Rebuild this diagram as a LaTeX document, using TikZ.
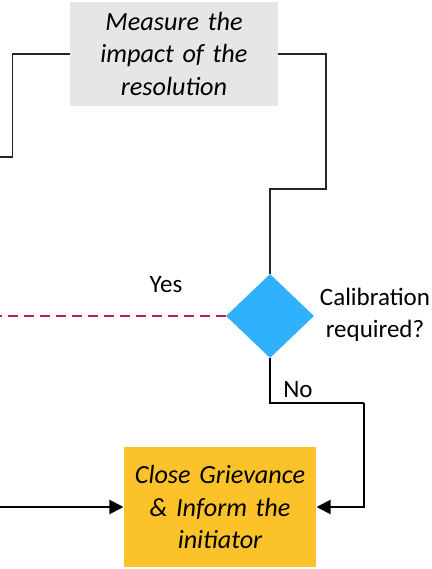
\documentclass[tikz,border=0pt]{standalone}
\usepackage{fontspec}
\setmainfont{Carlito}
\usepackage{tikz}
\usepackage{xcolor}
\usetikzlibrary{shapes.geometric}
\usetikzlibrary{arrows.meta}
\definecolor{boxgray}{HTML}{E6E6E6}
\definecolor{decblue}{HTML}{2FB1FD}
\definecolor{closeyellow}{HTML}{FBC22A}
\definecolor{yesred}{HTML}{C8194B}
\newcommand{\flowfont}{\fontsize{25}{32}\selectfont}
\newcommand{\boxfont}{\fontsize{26.2}{32.5}\selectfont\itshape}
\tikzstyle{measurebox} = [rectangle, minimum width=208pt, minimum height=104pt, text width=200pt, align=center, fill=boxgray, font=\boxfont]
\tikzstyle{closebox} = [rectangle, minimum width=192pt, minimum height=120pt, text width=186pt, align=center, fill=closeyellow, font=\boxfont]
\tikzstyle{decision} = [diamond, minimum width=88pt, minimum height=84pt, inner sep=0pt, fill=decblue]
\tikzstyle{thinline} = [line width=1.3pt, draw=black!85]
\tikzstyle{arrow} = [line width=2pt, -{Triangle[length=14pt, width=14pt]}]
\tikzstyle{noline} = [line width=2pt]
\tikzstyle{yesline} = [line width=2pt, draw=yesred, dash pattern=on 10pt off 6pt]

\begin{document}
\begin{tikzpicture}[x=1pt, y=-1pt, font=\flowfont]
        \useasboundingbox (0,0) rectangle (431,569);
        \node (measure) [measurebox] at (174,54) {Measure the\\ impact of the\\ resolution};
        \node (calib) [decision] at (270,316) {};
        \node (close) [closebox] at (220,507) {Close Grievance\\ \& Inform the\\ initiator};
        \node (calibText) [align=center] at (375,315) {Calibration\\ required?};
        \node (yesText) at (166,285) {Yes};
        \node (noText) at (298,390) {No};

        \coordinate (leftOut) at (0,157);
        \coordinate (bendR) at (326,189);
        \coordinate (yesOut) at (0,316);
        \coordinate (bendN) at (364,403);
        \coordinate (leftIn) at (0,507);

        \draw [thinline] (measure.west) -- ++(-57,0) |- (leftOut);
        \draw [thinline] (measure.east) -| (bendR) -| (calib.north);
        \draw [yesline] (calib.west) -- (yesOut);
        \draw [noline] (calib.south) |- (bendN);
        \draw [arrow] (bendN) |- (close.east);
        \draw [arrow] (leftIn) -- (close.west);
    \end{tikzpicture}
\end{document}
